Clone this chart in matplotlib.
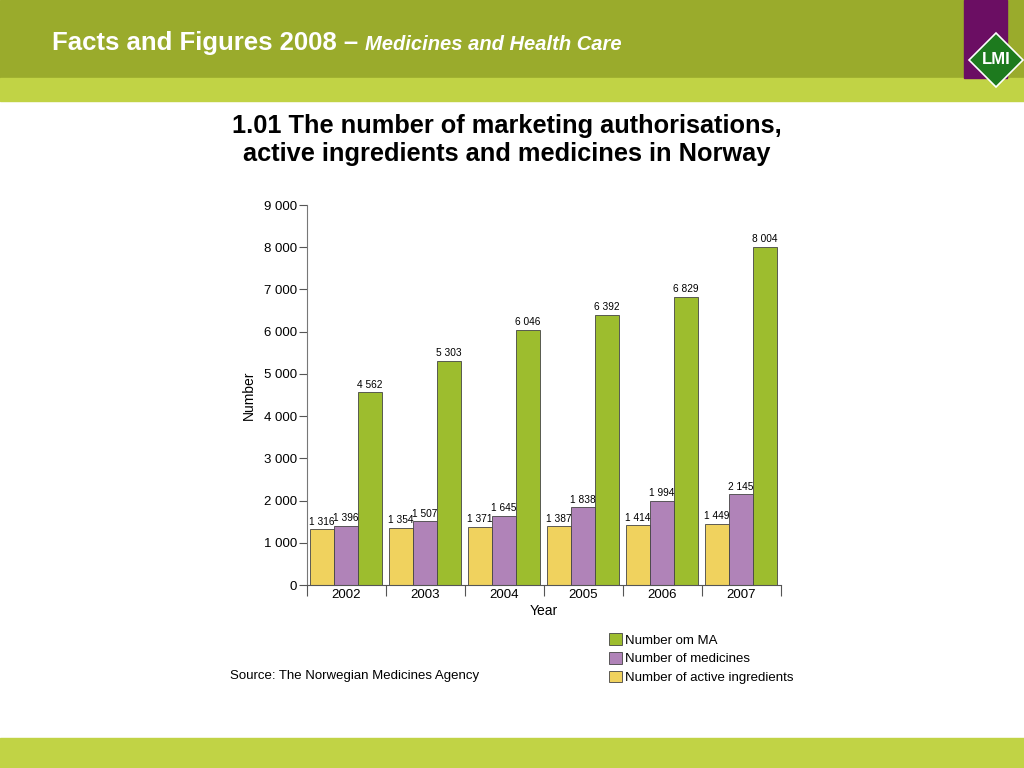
import matplotlib.pyplot as plt
from matplotlib.patches import Rectangle, Polygon
from matplotlib.ticker import FuncFormatter
import numpy as np

years = ['2002', '2003', '2004', '2005', '2006', '2007']
active_ingredients = [1316, 1354, 1371, 1387, 1414, 1449]
medicines = [1396, 1507, 1645, 1838, 1994, 2145]
ma_count = [4562, 5303, 6046, 6392, 6829, 8004]

c_yellow = '#f0d25e'
c_purple = '#b083b8'
c_green = '#9dbd2e'

plt.rcParams['font.family'] = ['Liberation Sans', 'DejaVu Sans']

fig = plt.figure(figsize=(10.24, 7.68), dpi=100)

# header / footer bands
fig.add_artist(Rectangle((0, 1 - 78/768), 1, 78/768, transform=fig.transFigure, color='#9aab2c', zorder=0))
fig.add_artist(Rectangle((0, 1 - 101/768), 1, 23/768, transform=fig.transFigure, color='#c1d345', zorder=0))
fig.add_artist(Rectangle((0, 0), 1, 30/768, transform=fig.transFigure, color='#c1d345', zorder=0))
fig.add_artist(Rectangle((964/1024, 1 - 78/768), 43/1024, 78/768, transform=fig.transFigure, color='#6b0e63', zorder=1))
# LMI diamond
cx, cy = 996, 60
pts = [(cx, cy - 27), (cx + 27, cy), (cx, cy + 27), (cx - 27, cy)]
fig.add_artist(Polygon([(x/1024, 1 - y/768) for x, y in pts], closed=True, transform=fig.transFigure,
                       facecolor='#1d7a1e', edgecolor='white', linewidth=1.2, zorder=2))
fig.text(cx/1024, 1 - cy/768, 'LMI', color='white', fontsize=12, fontweight='bold', ha='center', va='center', zorder=3)

t1 = fig.text(52/1024, 1 - 43/768, 'Facts and Figures 2008 – ', color='white', fontsize=18.5, fontweight='bold',
              va='center', ha='left')
fig.canvas.draw()
bb = t1.get_window_extent()
fig.text(bb.x1/1024, 1 - 44/768, 'Medicines and Health Care', color='white', fontsize=14.5, fontweight='bold',
         style='italic', va='center', ha='left')

fig.text(507/1024, 1 - 140/768, '1.01 The number of marketing authorisations,\nactive ingredients and medicines in Norway',
         ha='center', va='center', fontsize=18.3, fontweight='bold', linespacing=1.2)

ax = fig.add_axes([307/1024, 1 - 585/768, 474/1024, 380/768])
x = np.arange(len(years))
w = 24/79
off = [15/79, 39/79, 63/79]
series = [(active_ingredients, c_yellow, 'Number of active ingredients'),
          (medicines, c_purple, 'Number of medicines'),
          (ma_count, c_green, 'Number om MA')]
handles = []
for (vals, col, lab), o in zip(series, off):
    b = ax.bar(x + o, vals, width=w, color=col, edgecolor='#444444', linewidth=0.6, label=lab)
    handles.append(b)
    for xi, v in zip(x + o, vals):
        ax.annotate(f'{v:,}'.replace(',', ' '), (xi, v), xytext=(0, 2), textcoords='offset points',
                    ha='center', va='bottom', fontsize=7.3)

ax.set_xlim(0, 6)
ax.set_ylim(0, 9000)
ax.set_yticks(range(0, 9001, 1000))
ax.yaxis.set_major_formatter(FuncFormatter(lambda v, p: f'{int(v):,}'.replace(',', ' ')))
ax.set_xticks(range(0, 7))
ax.set_xticklabels([])
ax.set_xticks(x + 0.5, minor=True)
ax.set_xticklabels(years, minor=True, fontsize=9.5)
ax.tick_params(axis='x', which='minor', length=0, pad=3)
ax.tick_params(axis='x', which='major', length=8, color='#555555')
ax.tick_params(axis='y', length=6, color='#555555', labelsize=9.5, pad=1)
for s in ['top', 'right']:
    ax.spines[s].set_visible(False)
ax.spines['left'].set_color('#777777')
ax.spines['bottom'].set_color('#555555')
ax.set_xlabel('Year', fontsize=10, labelpad=2)
ax.set_ylabel('Number', fontsize=10, labelpad=6)

fig.legend(handles=handles[::-1], loc='upper left', bbox_to_anchor=(604/1024, 1 - 628/768), frameon=False,
           fontsize=9.5, handlelength=1.0, handleheight=1.0, handletextpad=0.2, labelspacing=0.4, borderaxespad=0)
fig.text(230/1024, 1 - 676/768, 'Source: The Norwegian Medicines Agency', fontsize=9.5, va='center')

fig.savefig('out.png', dpi=100)
